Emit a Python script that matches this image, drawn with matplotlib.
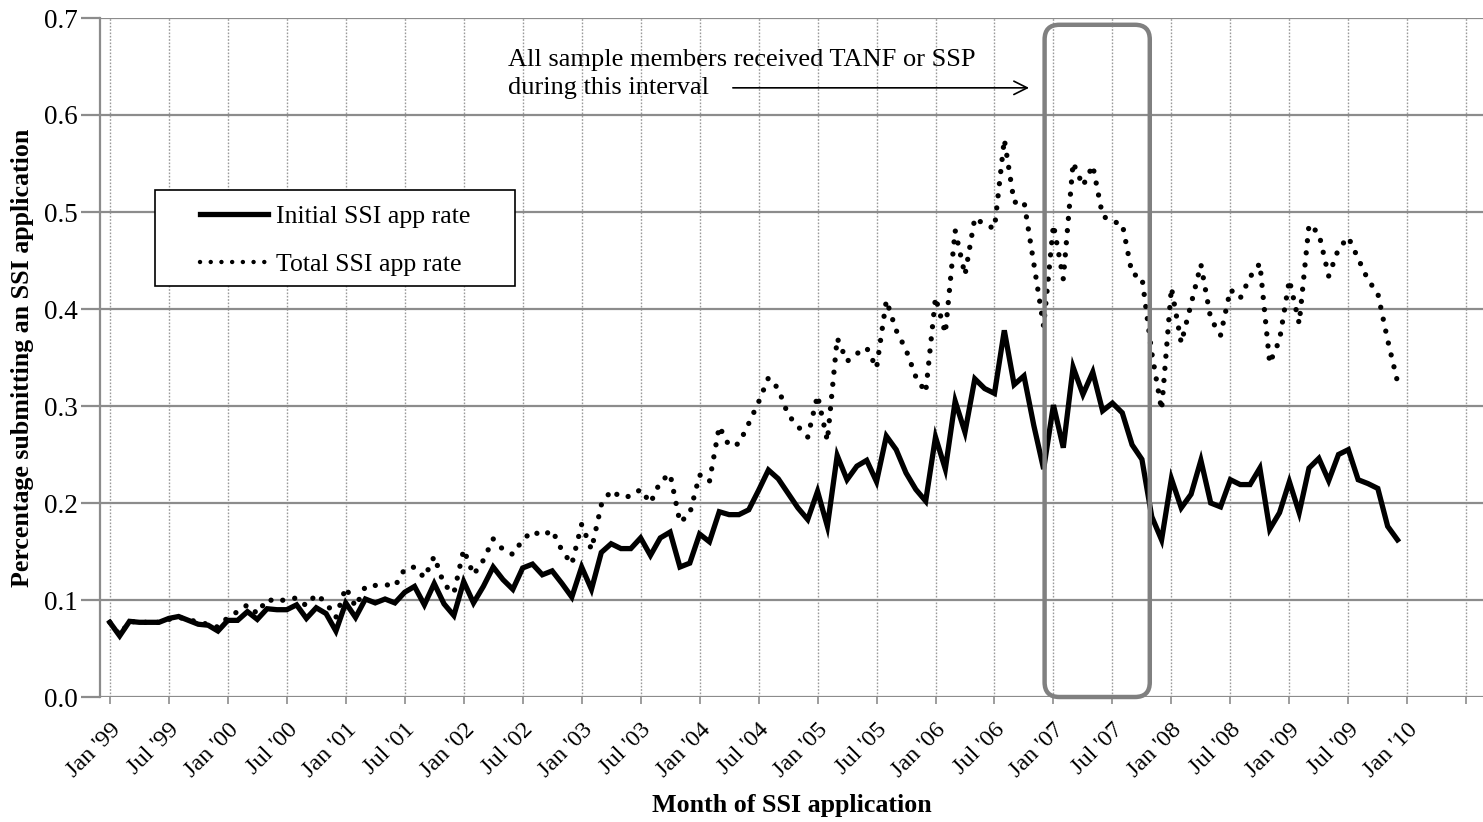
import numpy as np
import matplotlib
matplotlib.use("Agg")
import matplotlib.pyplot as plt
from matplotlib.patches import FancyBboxPatch, Rectangle
from matplotlib.lines import Line2D

plt.rcParams['font.family'] = ['Liberation Serif', 'DejaVu Serif']

# monthly SSI application rates, Jan 1999 .. Dec 2009
initial_rate = [
    0.077, 0.063, 0.078, 0.077, 0.077, 0.077, 0.081, 0.083, 0.079, 0.075, 0.074, 0.068,
    0.079, 0.079, 0.088, 0.080, 0.091, 0.090, 0.090, 0.095, 0.081, 0.092, 0.086, 0.068,
    0.097, 0.082, 0.101, 0.097, 0.101, 0.097, 0.108, 0.114, 0.095, 0.117, 0.096, 0.084,
    0.119, 0.097, 0.114, 0.134, 0.121, 0.111, 0.133, 0.137, 0.126, 0.130, 0.117, 0.103,
    0.134, 0.111, 0.149, 0.158, 0.153, 0.153, 0.164, 0.146, 0.164, 0.170, 0.134, 0.138,
    0.168, 0.160, 0.191, 0.188, 0.188, 0.193, 0.213, 0.234, 0.225, 0.210, 0.195, 0.183,
    0.212, 0.176, 0.249, 0.224, 0.238, 0.244, 0.222, 0.269, 0.255, 0.231, 0.214, 0.202,
    0.268, 0.235, 0.305, 0.273, 0.328, 0.318, 0.313, 0.378, 0.322, 0.331, 0.280, 0.235,
    0.301, 0.257, 0.340, 0.312, 0.335, 0.295, 0.303, 0.293, 0.260, 0.245, 0.186, 0.162,
    0.225, 0.195, 0.209, 0.244, 0.200, 0.196, 0.224, 0.219, 0.219, 0.236, 0.173, 0.190,
    0.222, 0.190, 0.236, 0.246, 0.223, 0.250, 0.255, 0.224, 0.220, 0.215, 0.176, 0.162,
]
total_rate = [
    0.077, 0.064, 0.078, 0.077, 0.077, 0.077, 0.080, 0.082, 0.080, 0.077, 0.075, 0.072,
    0.082, 0.088, 0.095, 0.086, 0.101, 0.098, 0.101, 0.102, 0.094, 0.106, 0.097, 0.082,
    0.113, 0.093, 0.114, 0.115, 0.116, 0.114, 0.132, 0.134, 0.123, 0.145, 0.116, 0.107,
    0.152, 0.126, 0.141, 0.163, 0.152, 0.147, 0.162, 0.171, 0.166, 0.172, 0.151, 0.137,
    0.178, 0.152, 0.198, 0.213, 0.206, 0.207, 0.214, 0.200, 0.222, 0.230, 0.180, 0.189,
    0.229, 0.222, 0.279, 0.259, 0.261, 0.282, 0.304, 0.329, 0.318, 0.291, 0.279, 0.268,
    0.311, 0.264, 0.370, 0.346, 0.354, 0.360, 0.339, 0.409, 0.378, 0.358, 0.330, 0.314,
    0.412, 0.375, 0.481, 0.435, 0.494, 0.487, 0.483, 0.575, 0.510, 0.511, 0.447, 0.382,
    0.487, 0.431, 0.551, 0.527, 0.548, 0.496, 0.490, 0.488, 0.436, 0.433, 0.355, 0.296,
    0.422, 0.365, 0.405, 0.446, 0.390, 0.373, 0.420, 0.411, 0.433, 0.447, 0.344, 0.368,
    0.430, 0.385, 0.487, 0.478, 0.434, 0.462, 0.474, 0.452, 0.430, 0.416, 0.368, 0.325,
]
tick_labels = ["Jan '99", "Jul '99", "Jan '00", "Jul '00", "Jan '01", "Jul '01",
               "Jan '02", "Jul '02", "Jan '03", "Jul '03", "Jan '04", "Jul '04",
               "Jan '05", "Jul '05", "Jan '06", "Jul '06", "Jan '07", "Jul '07",
               "Jan '08", "Jul '08", "Jan '09", "Jul '09", "Jan '10", ""]
# months (from Jan '99) bounding the TANF/SSP interval
interval_start = 95.1
interval_end = 105.8

months = np.arange(len(initial_rate))
tick_pos = np.arange(len(tick_labels)) * 6

W, H = 1483, 822
fig = plt.figure(figsize=(W / 100, H / 100), dpi=100)
ax = fig.add_axes([100 / W, 125 / H, 1383 / W, 679 / H])

grey = '#8c8c8c'
ax.set_xlim(-1.0, 139.7)
ax.set_ylim(0, 0.7)
yt = np.arange(0, 0.71, 0.1)
ax.set_yticks(yt)
ax.set_yticklabels(['%.1f' % v for v in yt])
ax.set_xticks(tick_pos)
ax.set_xticklabels(tick_labels, rotation=45, ha='right', va='top',
                   rotation_mode='anchor')

ax.grid(axis='y', color=grey, lw=1.6, linestyle='-')
ax.grid(axis='x', color='#9a9a9a', lw=1.0, linestyle=(0, (1.2, 1.2)))
ax.set_axisbelow(True)
for s in ['top', 'right', 'bottom']:
    ax.spines[s].set_visible(False)
ax.spines['left'].set_color(grey)
ax.spines['left'].set_linewidth(1.6)
ax.tick_params(axis='y', length=14, width=1.6, color=grey, labelsize=19.5, pad=2)
ax.tick_params(axis='x', length=5, width=1.2, color=grey, labelsize=17.5, pad=11)

ax.plot(months, total_rate, color='black', lw=3.8, linestyle=(0, (0.01, 2.3)),
        dash_capstyle='round', zorder=3)
ax.plot(months, initial_rate, color='black', lw=3.8, solid_joinstyle='miter',
        zorder=4)

# rounded frame around the interval
r = 1.5
aspect = (1 / 970) / (1 / 9.83)
box = FancyBboxPatch((interval_start, 0.0), interval_end - interval_start, 0.693,
                     boxstyle='round,pad=0,rounding_size=%g' % r,
                     mutation_aspect=aspect, fill=False, ec='#808080', lw=3.2,
                     transform=ax.transData, clip_on=False, zorder=5)
ax.add_patch(box)

ax.text(40.5, 0.657, 'All sample members received TANF or SSP', fontsize=19,
        ha='left', va='center')
ax.text(40.5, 0.628, 'during this interval', fontsize=19, ha='left', va='center')
ax.annotate('', xy=(93.8, 0.628), xytext=(63.1, 0.628),
            arrowprops=dict(arrowstyle='->', color='black', lw=1.2,
                            mutation_scale=24))

ax.set_ylabel('Percentage submitting an SSI application', fontsize=18.7,
              fontweight='bold', va='center')
ax.yaxis.set_label_coords((23 - 100) / 1383, 0.5)
ax.set_xlabel('Month of SSI application', fontsize=18.7, fontweight='bold',
              va='center')
ax.xaxis.set_label_coords(0.5, (697 - 805) / 679)

# legend: white framed box with the two line keys
frame = Rectangle((155 / W, 1 - 286 / H), 360 / W, 96 / H,
                  transform=fig.transFigure, fc='white', ec='black', lw=1.2,
                  zorder=6, clip_on=False)
ax.add_patch(frame)
handles = [Line2D([], [], color='black', lw=3.8),
           Line2D([], [], color='black', lw=3.2, linestyle=(0, (0.01, 2.4)),
                  dash_capstyle='round')]
leg = ax.legend(handles, ['Initial SSI app rate', 'Total SSI app rate'],
                loc='upper left', bbox_to_anchor=(200 / W, 1 - 205 / H),
                bbox_transform=fig.transFigure, fontsize=18.5, frameon=False,
                handlelength=2.65, handletextpad=0.3, borderpad=0,
                labelspacing=0.97, borderaxespad=0)
leg.set_zorder(7)

fig.savefig('out.png', dpi=100)
